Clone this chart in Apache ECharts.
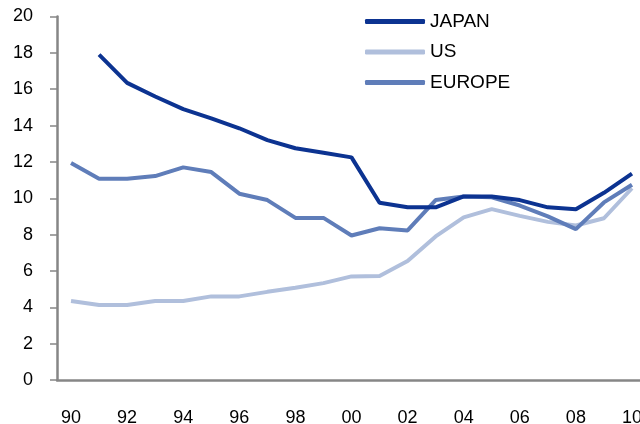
<!DOCTYPE html>
<html>
<head>
<meta charset="utf-8">
<script src="https://cdn.jsdelivr.net/npm/echarts@6/dist/echarts.min.js"></script>
<style>
html,body{margin:0;padding:0;background:#fff;}
#c{width:640px;height:424px;}
</style>
</head>
<body>
<div id="c"></div>
<script>
var years = ['90','91','92','93','94','95','96','97','98','99','00','01','02','03','04','05','06','07','08','09','10'];
var japan = [null, 17.9, 16.35, 15.6, 14.9, 14.4, 13.85, 13.2, 12.75, 12.5, 12.25, 9.75, 9.5, 9.5, 10.1, 10.1, 9.9, 9.5, 9.4, 10.3, 11.35];
var us = [4.35, 4.13, 4.13, 4.35, 4.35, 4.6, 4.6, 4.85, 5.08, 5.33, 5.7, 5.72, 6.55, 7.9, 8.95, 9.4, 9.03, 8.7, 8.5, 8.9, 10.55];
var europe = [11.94, 11.07, 11.07, 11.22, 11.7, 11.44, 10.25, 9.9, 8.92, 8.92, 7.95, 8.35, 8.23, 9.9, 10.1, 10.05, 9.6, 9.0, 8.3, 9.77, 10.74];
var yTicks = {min: 0, max: 20, interval: 2};

var FONT = "'Liberation Sans', Arial, sans-serif";
var chart = echarts.init(document.getElementById('c'), null, {renderer: 'canvas'});
function ser(name, data, color) {
  return {
    name: name, type: 'line', data: data, symbol: 'none', connectNulls: false,
    lineStyle: {color: color, width: 4}, itemStyle: {color: color}, animation: false
  };
}
chart.setOption({
  animation: false,
  backgroundColor: '#fff',
  grid: {left: 57, top: 16.5, bottom: 44, right: -6, containLabel: false, outerBoundsMode: 'none'},
  legend: {
    orient: 'vertical', left: 365, top: 11.5, padding: 0,
    data: ['JAPAN', 'US', 'EUROPE'],
    icon: 'roundRect', itemWidth: 60, itemHeight: 5, itemGap: 10.5,
    textStyle: {fontFamily: FONT, fontSize: 19, color: '#000', lineHeight: 20}
  },
  xAxis: {
    type: 'category', data: years, boundaryGap: true,
    axisLine: {lineStyle: {color: '#868686', width: 2.5}},
    axisTick: {interval: 1, length: 4, lineStyle: {color: '#868686', width: 1.5}},
    axisLabel: {interval: 1, margin: 29, fontFamily: FONT, fontSize: 18, color: '#000'},
    splitLine: {show: false}
  },
  yAxis: {
    type: 'value', min: yTicks.min, max: yTicks.max, interval: yTicks.interval,
    axisLine: {show: true, lineStyle: {color: '#868686', width: 2.5}},
    axisTick: {show: true, length: 7, lineStyle: {color: '#868686', width: 1.5}},
    axisLabel: {margin: 24, padding: [6, 0, 0, 0], fontFamily: FONT, fontSize: 18, color: '#000'},
    splitLine: {show: false}
  },
  series: [
    ser('US', us, '#b0bfdc'),
    ser('EUROPE', europe, '#5f7db9'),
    ser('JAPAN', japan, '#0c3391')
  ]
});
</script>
</body>
</html>
